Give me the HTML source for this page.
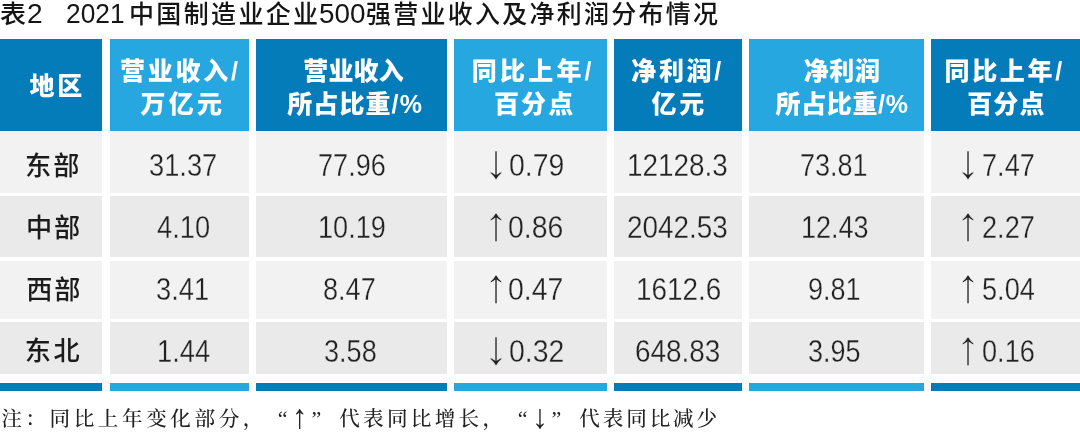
<!DOCTYPE html>
<html lang="zh-CN">
<head>
<meta charset="utf-8">
<title>表2 2021中国制造业企业500强营业收入及净利润分布情况</title>
<style>
html,body{margin:0;padding:0;background:#fff;}
body{width:1080px;height:439px;position:relative;overflow:hidden;font-family:"Liberation Sans","Noto Sans CJK SC",sans-serif;color:#1a1a1a;}
.bx{position:absolute;}
.dk{background:#057cba;}
.lt{background:#27a7e0;}
.r0{background:#f2f2f2;}
.r1{background:#eaeaea;}
.t{position:absolute;white-space:nowrap;line-height:1;transform-origin:0 0;margin:0;padding:0;}
.ti{color:#151515;font-weight:500;}
.hd{color:#fff;font-weight:900;}
.lb{color:#1c1c1c;font-weight:500;}
.dg{color:#222;font-weight:400;}
.g0{-webkit-text-stroke:0.3px #f2f2f2;}
.g1{-webkit-text-stroke:0.3px #eaeaea;}
.lb.g0,.lb.g1{-webkit-text-stroke:0;}
.ar{color:#222;font-family:"Liberation Sans","Noto Sans CJK SC",sans-serif;font-weight:400;}
.ar.g0{-webkit-text-stroke:0.45px #f2f2f2;}
.ar.g1{-webkit-text-stroke:0.45px #eaeaea;}
#note{font-family:"Liberation Serif","Noto Serif CJK SC",serif;color:#222;}
.nt{font-family:"Liberation Serif","Noto Serif CJK SC",serif;color:#222;font-weight:500;}
</style>
</head>
<body>
<div id="title"><span class="t ti" id="t1" style="left:0.11px;top:1.51px;font-size:25px;transform:scale(1.0424,1.0);">表</span><span class="t ti" id="t1b" style="left:26.9px;top:0.05px;font-size:28px;transform:scale(1.0026,1.0);">2</span> &nbsp; <span class="t ti" id="t2" style="left:66.1px;top:0.05px;font-size:28px;transform:scale(0.9399,1.0);">2021</span><span class="t ti" id="t3" style="left:129.02px;top:2.12px;font-size:25px;letter-spacing:2.342px;">中国制造业企业</span><span class="t ti" id="t4" style="left:319.42px;top:0.05px;font-size:28px;transform:scale(0.9934,1.0);">500</span><span class="t ti" id="t5" style="left:365.88px;top:1.62px;font-size:25px;letter-spacing:2.261px;">强营业收入及净利润分布情况</span></div>
<div id="thead">
<div class="bx th dk" style="left:0px;top:39px;width:102px;height:91.7px;"><span class="t hd" id="h1" style="left:29.57px;top:35.42px;font-size:25px;letter-spacing:2.805px;">地区</span></div>
<div class="bx th lt" style="left:109.5px;top:39px;width:139.5px;height:91.7px;"><span class="t hd" id="h2a" style="left:10.62px;top:20.1px;font-size:25px;letter-spacing:2.696px;">营业收入/</span><span class="t hd" id="h2b" style="left:30.89px;top:53.31px;font-size:25px;letter-spacing:3.267px;">万亿元</span></div>
<div class="bx th dk" style="left:256px;top:39px;width:190.5px;height:91.7px;"><span class="t hd" id="h3a" style="left:47.31px;top:20.1px;font-size:25px;letter-spacing:0.118px;">营业收入</span><span class="t hd" id="h3b" style="left:31.15px;top:53.31px;font-size:25px;letter-spacing:1.12px;">所占比重/%</span></div>
<div class="bx th lt" style="left:454px;top:39px;width:152.5px;height:91.7px;"><span class="t hd" id="h4a" style="left:17.78px;top:20.1px;font-size:25px;letter-spacing:3.206px;">同比上年/</span><span class="t hd" id="h4b" style="left:39.93px;top:53.31px;font-size:25px;letter-spacing:2.153px;">百分点</span></div>
<div class="bx th dk" style="left:614px;top:39px;width:127.5px;height:91.7px;"><span class="t hd" id="h5a" style="left:17.21px;top:20.1px;font-size:25px;letter-spacing:2.675px;">净利润/</span><span class="t hd" id="h5b" style="left:37.38px;top:53.31px;font-size:25px;letter-spacing:2.938px;">亿元</span></div>
<div class="bx th lt" style="left:749px;top:39px;width:175px;height:91.7px;"><span class="t hd" id="h6a" style="left:54.65px;top:20.1px;font-size:25px;letter-spacing:0.621px;">净利润</span><span class="t hd" id="h6b" style="left:26.6px;top:53.31px;font-size:25px;letter-spacing:0.625px;">所占比重/%</span></div>
<div class="bx th dk" style="left:931px;top:39px;width:149px;height:91.7px;"><span class="t hd" id="h7a" style="left:13.58px;top:20.1px;font-size:25px;letter-spacing:2.639px;">同比上年/</span><span class="t hd" id="h7b" style="left:36.13px;top:53.31px;font-size:25px;letter-spacing:1.242px;">百分点</span></div>
</div>
<div id="tbody">
<div class="tr">
<div class="bx td r0" style="left:0px;top:131px;width:102px;height:61.5px;"><span class="t lb g0" id="l0" style="left:25.0px;top:21.82px;font-size:26.2px;letter-spacing:2.108px;">东部</span></div>
<div class="bx td r0" style="left:109.5px;top:131px;width:139.5px;height:61.5px;"><span class="t dg g0" id="d0_0" style="left:39.98px;top:18.62px;font-size:30.5px;transform:scale(0.894,1);">31.37</span></div>
<div class="bx td r0" style="left:256px;top:131px;width:190.5px;height:61.5px;"><span class="t dg g0" id="d0_1" style="left:61.64px;top:18.62px;font-size:30.5px;transform:scale(0.888,1);">77.96</span></div>
<div class="bx td r0" style="left:454px;top:131px;width:152.5px;height:61.5px;"><span class="t ar g0" id="a0_2" style="left:29.5px;top:6.82px;font-size:38px;transform:scale(1.265,1.265);">↓</span><span class="t dg g0" id="d0_2" style="left:54.55px;top:18.62px;font-size:30.5px;transform:scale(0.933,1);">0.79</span></div>
<div class="bx td r0" style="left:614px;top:131px;width:127.5px;height:61.5px;"><span class="t dg g0" id="d0_3" style="left:13.02px;top:18.62px;font-size:30.5px;transform:scale(0.915,1);">12128.3</span></div>
<div class="bx td r0" style="left:749px;top:131px;width:175px;height:61.5px;"><span class="t dg g0" id="d0_4" style="left:50.78px;top:18.62px;font-size:30.5px;transform:scale(0.886,1);">73.81</span></div>
<div class="bx td r0" style="left:931px;top:131px;width:149px;height:61.5px;"><span class="t ar g0" id="a0_5" style="left:25.2px;top:6.82px;font-size:38px;transform:scale(1.265,1.265);">↓</span><span class="t dg g0" id="d0_5" style="left:50.72px;top:18.62px;font-size:30.5px;transform:scale(0.89,1);">7.47</span></div>
</div>
<div class="tr">
<div class="bx td r1" style="left:0px;top:195.8px;width:102px;height:61.5px;"><span class="t lb g1" id="l1" style="left:26.12px;top:19.29px;font-size:26.2px;letter-spacing:1.748px;">中部</span></div>
<div class="bx td r1" style="left:109.5px;top:195.8px;width:139.5px;height:61.5px;"><span class="t dg g1" id="d1_0" style="left:47.44px;top:16.02px;font-size:30.5px;transform:scale(0.894,1);">4.10</span></div>
<div class="bx td r1" style="left:256px;top:195.8px;width:190.5px;height:61.5px;"><span class="t dg g1" id="d1_1" style="left:61.91px;top:16.02px;font-size:30.5px;transform:scale(0.888,1);">10.19</span></div>
<div class="bx td r1" style="left:454px;top:195.8px;width:152.5px;height:61.5px;"><span class="t ar g1" id="a1_2" style="left:29.5px;top:4.22px;font-size:38px;transform:scale(1.265,1.265);">↑</span><span class="t dg g1" id="d1_2" style="left:54.3px;top:16.02px;font-size:30.5px;transform:scale(0.933,1);">0.86</span></div>
<div class="bx td r1" style="left:614px;top:195.8px;width:127.5px;height:61.5px;"><span class="t dg g1" id="d1_3" style="left:13.49px;top:16.02px;font-size:30.5px;transform:scale(0.915,1);">2042.53</span></div>
<div class="bx td r1" style="left:749px;top:195.8px;width:175px;height:61.5px;"><span class="t dg g1" id="d1_4" style="left:52.38px;top:16.02px;font-size:30.5px;transform:scale(0.886,1);">12.43</span></div>
<div class="bx td r1" style="left:931px;top:195.8px;width:149px;height:61.5px;"><span class="t ar g1" id="a1_5" style="left:25.2px;top:4.22px;font-size:38px;transform:scale(1.265,1.265);">↑</span><span class="t dg g1" id="d1_5" style="left:50.67px;top:16.02px;font-size:30.5px;transform:scale(0.89,1);">2.27</span></div>
</div>
<div class="tr">
<div class="bx td r0" style="left:0px;top:260.5px;width:102px;height:58.4px;"><span class="t lb g0" id="l2" style="left:26.25px;top:16.47px;font-size:26.2px;letter-spacing:1.885px;">西部</span></div>
<div class="bx td r0" style="left:109.5px;top:260.5px;width:139.5px;height:58.4px;"><span class="t dg g0" id="d2_0" style="left:46.01px;top:13.23px;font-size:30.5px;transform:scale(0.894,1);">3.41</span></div>
<div class="bx td r0" style="left:256px;top:260.5px;width:190.5px;height:58.4px;"><span class="t dg g0" id="d2_1" style="left:67.3px;top:13.23px;font-size:30.5px;transform:scale(0.888,1);">8.47</span></div>
<div class="bx td r0" style="left:454px;top:260.5px;width:152.5px;height:58.4px;"><span class="t ar g0" id="a2_2" style="left:29.5px;top:1.43px;font-size:38px;transform:scale(1.265,1.265);">↑</span><span class="t dg g0" id="d2_2" style="left:53.52px;top:13.23px;font-size:30.5px;transform:scale(0.933,1);">0.47</span></div>
<div class="bx td r0" style="left:614px;top:260.5px;width:127.5px;height:58.4px;"><span class="t dg g0" id="d2_3" style="left:21.84px;top:13.23px;font-size:30.5px;transform:scale(0.915,1);">1612.6</span></div>
<div class="bx td r0" style="left:749px;top:260.5px;width:175px;height:58.4px;"><span class="t dg g0" id="d2_4" style="left:58.53px;top:13.23px;font-size:30.5px;transform:scale(0.886,1);">9.81</span></div>
<div class="bx td r0" style="left:931px;top:260.5px;width:149px;height:58.4px;"><span class="t ar g0" id="a2_5" style="left:25.2px;top:1.43px;font-size:38px;transform:scale(1.265,1.265);">↑</span><span class="t dg g0" id="d2_5" style="left:50.62px;top:13.23px;font-size:30.5px;transform:scale(0.89,1);">5.04</span></div>
</div>
<div class="tr">
<div class="bx td r1" style="left:0px;top:321.8px;width:102px;height:52.7px;"><span class="t lb g1" id="l3" style="left:24.71px;top:16.58px;font-size:26.2px;letter-spacing:2.617px;">东北</span></div>
<div class="bx td r1" style="left:109.5px;top:321.8px;width:139.5px;height:52.7px;"><span class="t dg g1" id="d3_0" style="left:47.51px;top:13.83px;font-size:30.5px;transform:scale(0.894,1);">1.44</span></div>
<div class="bx td r1" style="left:256px;top:321.8px;width:190.5px;height:52.7px;"><span class="t dg g1" id="d3_1" style="left:68.49px;top:13.83px;font-size:30.5px;transform:scale(0.888,1);">3.58</span></div>
<div class="bx td r1" style="left:454px;top:321.8px;width:152.5px;height:52.7px;"><span class="t ar g1" id="a3_2" style="left:29.5px;top:2.03px;font-size:38px;transform:scale(1.265,1.265);">↓</span><span class="t dg g1" id="d3_2" style="left:54.55px;top:13.83px;font-size:30.5px;transform:scale(0.933,1);">0.32</span></div>
<div class="bx td r1" style="left:614px;top:321.8px;width:127.5px;height:52.7px;"><span class="t dg g1" id="d3_3" style="left:21.18px;top:13.83px;font-size:30.5px;transform:scale(0.915,1);">648.83</span></div>
<div class="bx td r1" style="left:749px;top:321.8px;width:175px;height:52.7px;"><span class="t dg g1" id="d3_4" style="left:59.07px;top:13.83px;font-size:30.5px;transform:scale(0.886,1);">3.95</span></div>
<div class="bx td r1" style="left:931px;top:321.8px;width:149px;height:52.7px;"><span class="t ar g1" id="a3_5" style="left:25.2px;top:2.03px;font-size:38px;transform:scale(1.265,1.265);">↑</span><span class="t dg g1" id="d3_5" style="left:51.29px;top:13.83px;font-size:30.5px;transform:scale(0.89,1);">0.16</span></div>
</div>
</div>
<div id="tfoot">
<div class="bx dk" style="left:0px;top:383px;width:102px;height:8px;"></div>
<div class="bx lt" style="left:109.5px;top:383px;width:139.5px;height:8px;"></div>
<div class="bx dk" style="left:256px;top:383px;width:190.5px;height:8px;"></div>
<div class="bx lt" style="left:454px;top:383px;width:152.5px;height:8px;"></div>
<div class="bx dk" style="left:614px;top:383px;width:127.5px;height:8px;"></div>
<div class="bx lt" style="left:749px;top:383px;width:175px;height:8px;"></div>
<div class="bx dk" style="left:931px;top:383px;width:149px;height:8px;"></div>
</div>
<div id="note"><span class="t nt" id="n1" style="left:1.17px;top:408.78px;font-size:20.6px;letter-spacing:3.576px;">注：同比上年变化部分，</span><span class="t nt nq" id="n2" style="left:277.63px;top:407.85px;font-size:22px;">“</span><span class="t nt na" id="n3" style="left:291.79px;top:401.47px;font-size:26px;transform:scale(1.1828,1.2953);">↑</span><span class="t nt nq" id="n4" style="left:311.44px;top:408.16px;font-size:22px;">”</span><span class="t nt" id="n5" style="left:339.14px;top:408.78px;font-size:20.6px;letter-spacing:3.282px;">代表同比增长，</span><span class="t nt nq" id="n6" style="left:517.63px;top:407.85px;font-size:22px;">“</span><span class="t nt na" id="n7" style="left:531.65px;top:401.45px;font-size:26px;transform:scale(1.2279,1.3029);">↓</span><span class="t nt nq" id="n8" style="left:551.44px;top:408.16px;font-size:22px;">”</span><span class="t nt" id="n9" style="left:579.28px;top:408.78px;font-size:20.6px;letter-spacing:2.865px;">代表同比减少</span></div>
</body>
</html>
